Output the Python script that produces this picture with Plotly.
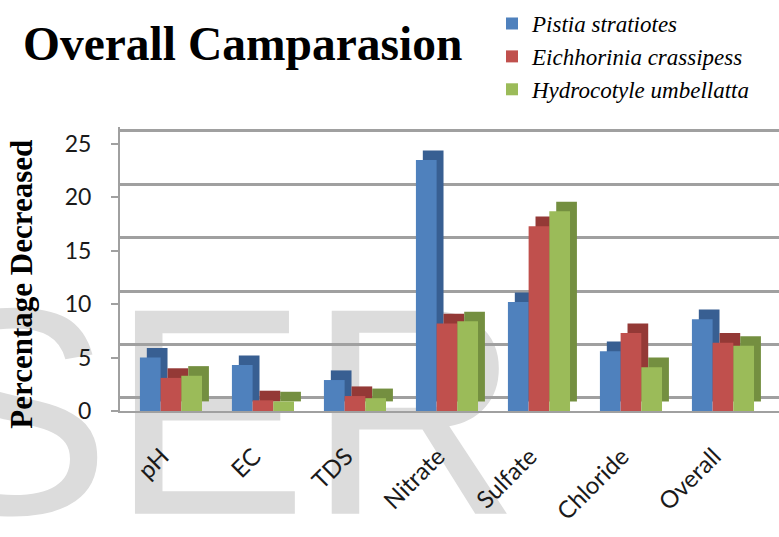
import plotly.graph_objects as go

categories = ["pH", "EC", "TDS", "Nitrate", "Sulfate", "Chloride", "Overall"]
series_names = ["Pistia stratiotes", "Eichhorinia crassipess", "Hydrocotyle umbellatta"]
pistia = [5.0, 4.3, 2.9, 23.5, 10.2, 5.6, 8.6]
eichhornia = [3.1, 1.0, 1.4, 8.2, 17.3, 7.3, 6.4]
hydrocotyle = [3.3, 0.9, 1.2, 8.4, 18.7, 4.1, 6.1]
colors = ["#4F81BD", "#C0504D", "#9BBB59"]
side_colors = ["#385F92", "#943936", "#748F40"]
y_ticks = [0, 5, 10, 15, 20, 25]

# style constants for the pseudo-3D look
BAR_W = 0.225
DEPTH_X = 0.075
DEPTH_Y = 0.9
offsets = [-0.3375, -0.1125, 0.1125]

fig = go.Figure()
for name, vals, col, scol, off in zip(series_names, [pistia, eichhornia, hydrocotyle],
                                       colors, side_colors, offsets):
    # side/top face
    fig.add_trace(go.Bar(x=categories, y=vals, base=DEPTH_Y, width=BAR_W, offset=off + DEPTH_X,
                         marker=dict(color=scol, line=dict(width=0)),
                         showlegend=False, hoverinfo="skip"))
    # front face
    fig.add_trace(go.Bar(x=categories, y=vals, name=name, width=BAR_W, offset=off,
                         marker=dict(color=col, line=dict(width=0))))

# helper trace (invisible) so the back-wall grid axis is drawn
fig.add_trace(go.Scatter(x=categories, y=pistia, yaxis="y2", mode="markers",
                         marker=dict(opacity=0), showlegend=False, hoverinfo="skip"))

fig.update_layout(
    width=779, height=537,
    margin=dict(l=120, r=0, t=127, b=126),
    paper_bgcolor="white", plot_bgcolor="white",
    barmode="overlay",
    showlegend=True,
    title=dict(text="<b>Overall Camparasion</b>", x=23/779, xanchor="left",
               xref="container", yref="container", y=1-43/537, yanchor="middle",
               font=dict(family="Liberation Serif", size=47.5, color="black")),
    legend=dict(x=0.5645, xanchor="left", y=1.44, yanchor="top",
                font=dict(family="Liberation Serif", size=23, color="black", style="italic"),
                bgcolor="rgba(0,0,0,0)", tracegroupgap=0),
    xaxis=dict(type="category", range=[-0.554, 6.609], showgrid=False,
               showline=True, linecolor="#a0a0a0", linewidth=2,
               tickangle=-45, ticks="", ticklabelstandoff=20, ticklabelshift=-9,
               tickfont=dict(family="Lato", size=24, color="#1a1a1a")),
    yaxis=dict(range=[0, 26.59], tickvals=y_ticks, showgrid=False, zeroline=False,
               showline=True, linecolor="#a0a0a0", linewidth=2,
               ticks="outside", ticklen=7, tickcolor="#a0a0a0", tickwidth=2,
               ticklabelstandoff=15,
               tickfont=dict(family="Lato", size=23, color="#1a1a1a")),
    yaxis2=dict(range=[-1.22, 25.37], overlaying="y", anchor="x", tickvals=y_ticks,
                showgrid=True, gridcolor="#a0a0a0", gridwidth=2.5, zeroline=False,
                showticklabels=False, ticks="", showline=False),
)

# watermark behind everything
fig.add_shape(type="rect", xref="paper", yref="paper", x0=-0.3217, x1=0.7,
              y0=-0.1039, y1=0.2961, layer="below",
              line=dict(width=0), fillcolor="rgba(0,0,0,0)",
              label=dict(text="SER", textposition="middle left", padding=3,
                         font=dict(family="Liberation Sans", size=295, color="#dcdcdc")))

fig.add_annotation(text="<b>Percentage Decreased</b>", xref="paper", yref="paper",
                   x=-0.1487, y=0.445, xanchor="center", yanchor="middle", textangle=-90,
                   showarrow=False, font=dict(family="Liberation Serif", size=31, color="black"))

fig.write_html("out.html")
